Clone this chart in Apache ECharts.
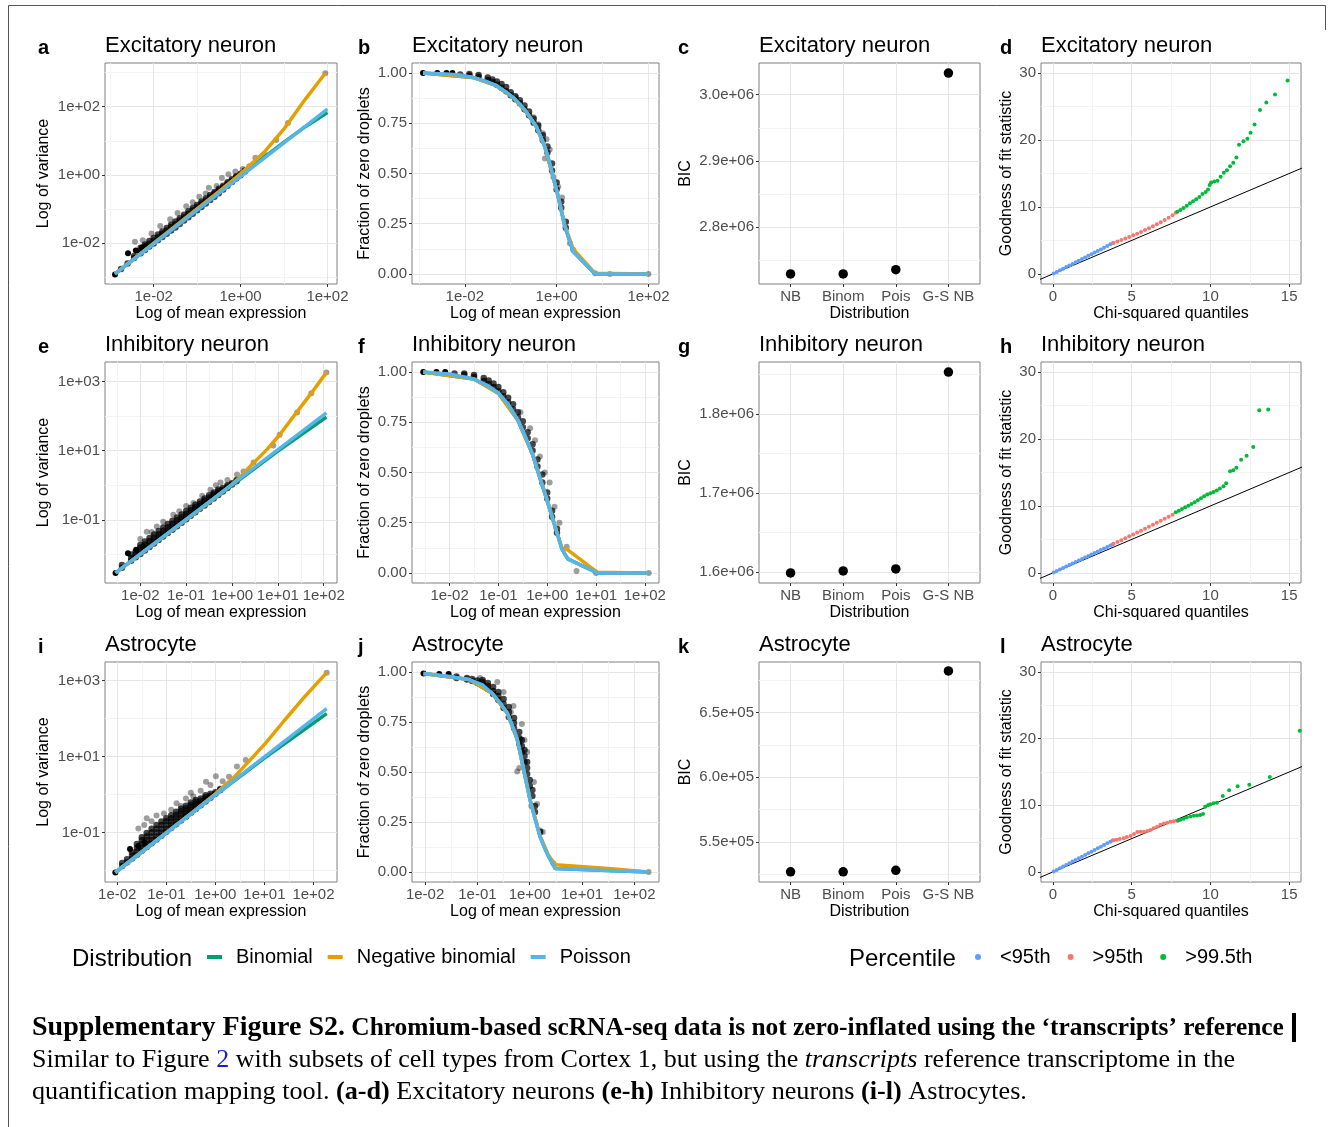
<!DOCTYPE html>
<html>
<head>
<meta charset="utf-8">
<script src="https://cdn.jsdelivr.net/npm/echarts@6/dist/echarts.min.js"></script>
<style>
html, body { margin: 0; padding: 0; background: #fff; }
#main { width: 1329px; height: 1127px; }
</style>
</head>
<body>
<div id="main"></div>
<script>
// values below are log10(mean), log10(variance) / fraction of zeros

// ---- Excitatory neuron ----
var aSolid = [[-2.89,-2.92],[-2.59,-2.30],[-2.41,-2.22],[-2.27,-2.13],[-2.18,-2.08]];
var aBand = [
  [-2.75,-2.76],[-2.6,-2.6],[-2.45,-2.44,-2.38],[-2.3,-2.3,-2.22,-2.14],[-2.2,-2.2,-2.12,-2.04],
  [-2.1,-2.1,-2.02,-1.94],[-2.0,-2.01,-1.93,-1.85],[-1.9,-1.91,-1.83,-1.75],[-1.8,-1.82,-1.73,-1.66],
  [-1.7,-1.73,-1.63,-1.56],[-1.6,-1.63,-1.53,-1.46],[-1.5,-1.54,-1.44,-1.37],[-1.4,-1.44,-1.34,-1.27],
  [-1.3,-1.34,-1.24,-1.17],[-1.2,-1.24,-1.14,-1.07],[-1.1,-1.14,-1.04,-0.97],[-1.0,-1.04,-0.94,-0.88],
  [-0.9,-0.94,-0.84,-0.78],[-0.8,-0.84,-0.75,-0.69],[-0.7,-0.74,-0.65,-0.59],[-0.6,-0.64,-0.55,-0.5],
  [-0.5,-0.54,-0.46,-0.41],[-0.4,-0.43,-0.36,-0.32],[-0.3,-0.32,-0.26,-0.22],[-0.2,-0.21,-0.17,-0.13],
  [-0.1,-0.11,-0.07,-0.04],[0.0,-0.01,0.03],[0.1,0.1,0.13]
];
var aGrey = [[-2.43,-1.96],[-2.25,-1.92],[-2.05,-1.72],[-1.85,-1.5],[-1.62,-1.3],[-1.45,-1.12],[-1.25,-0.92],
  [-1.1,-0.8],[-0.95,-0.64],[-0.8,-0.55],[-0.73,-0.38],[-0.55,-0.33],[-0.43,-0.09],[-0.28,0.02],[-0.12,0.1],
  [0.05,0.17],[0.2,0.25],[0.34,0.5],[0.55,0.6],[0.82,1.02],[1.09,1.52],[1.95,2.98]];
var aBinom = [[-2.89,-2.9],[0.0,-0.01],[1.0,0.96],[1.5,1.42],[2.0,1.83]];
var aNB = [[-2.89,-2.9],[-0.5,-0.49],[0.0,0.03],[0.3,0.38],[0.57,0.7],[1.02,1.38],[1.48,2.2],[1.95,2.98]];
var aPois = [[-2.89,-2.9],[2.0,1.93]];

var bSolid = [[-2.91,1.0],[-2.6,1.0],[-2.4,1.0],[-2.27,1.0]];
var bBand = [
  [-2.1,0.993],[-1.9,0.988,0.995],[-1.7,0.98,0.99],[-1.5,0.965,0.978],[-1.4,0.955,0.968],[-1.3,0.942,0.958],
  [-1.2,0.927,0.945],[-1.1,0.91,0.93],[-1.0,0.89,0.905],[-0.9,0.87,0.885],[-0.8,0.85,0.865],[-0.7,0.82,0.838],
  [-0.6,0.79,0.808],[-0.5,0.752,0.772],[-0.4,0.715,0.738],[-0.3,0.665,0.69],[-0.2,0.605,0.635],
  [-0.1,0.515,0.55],[0.0,0.42,0.455],[0.1,0.33,0.36],[0.2,0.23,0.26]
];
var bGrey = [[-0.88,0.88],[-0.5,0.78],[-0.4,0.745],[-0.3,0.7],[-0.22,0.67],[-0.15,0.62],[-0.255,0.575],
  [-0.07,0.483],[0.035,0.434],[0.12,0.38],[0.29,0.153],[0.36,0.12],[0.84,0.004],[1.16,0.0],[2.0,0.0]];
var bPois = [[-2.91,1.0],[-2.4,0.995],[-2.1,0.99],[-1.82,0.978],[-1.55,0.96],[-1.31,0.937],[-1.1,0.905],
  [-0.95,0.879],[-0.8,0.845],[-0.655,0.805],[-0.55,0.77],[-0.437,0.731],[-0.35,0.685],[-0.255,0.632],
  [-0.17,0.57],[-0.096,0.5],[0.035,0.384],[0.18,0.236],[0.36,0.112],[0.84,0.0],[2.0,0.0]];
var bNB = [[-2.91,1.0],[-1.82,0.978],[-1.31,0.937],[-0.95,0.879],[-0.655,0.805],[-0.437,0.731],
  [-0.255,0.632],[-0.096,0.5],[0.035,0.386],[0.18,0.24],[0.36,0.125],[0.84,0.003],[2.0,0.0]];
var bBinom = [[-2.91,1.0],[-1.82,0.978],[-1.31,0.937],[-0.95,0.879],[-0.655,0.805],[-0.437,0.731],
  [-0.255,0.632],[-0.096,0.5],[0.035,0.384],[0.18,0.236],[0.36,0.112],[0.84,0.0],[2.0,0.0]];

var cBIC = [2.729e6, 2.729e6, 2.7355e6, 3.0328e6];

var dBlue = [[0.05,0.06],[0.25,0.3],[0.45,0.55],[0.65,0.78],[0.85,1.02],[1.05,1.26],[1.25,1.5],[1.45,1.74],
  [1.65,1.98],[1.85,2.22],[2.05,2.46],[2.25,2.7],[2.45,2.94],[2.65,3.19],[2.85,3.43],[3.05,3.67],[3.25,3.92],
  [3.45,4.17],[3.65,4.42],[3.8,4.6]];
var dRed = [[3.85,4.62],[4.1,4.85],[4.35,5.07],[4.6,5.3],[4.85,5.53],[5.1,5.77],[5.35,6.02],[5.6,6.28],
  [5.85,6.55],[6.1,6.83],[6.35,7.12],[6.6,7.42],[6.85,7.73],[7.1,8.05],[7.35,8.4],[7.6,8.78],[7.8,9.15]];
var dGreen = [[7.9,9.3],[8.1,9.55],[8.3,9.85],[8.5,10.2],[8.7,10.55],[8.9,10.85],[9.1,11.15],[9.3,11.5],
  [9.5,11.95],[9.7,12.25],[9.85,12.6],[9.95,13.3],[10.05,13.65],[10.25,13.8],[10.45,13.9],[10.65,14.5],
  [10.85,15.1],[11.05,15.5],[11.25,16.1],[11.45,16.6],[11.65,17.4],[11.82,19.3],[12.1,19.8],[12.35,20.2],
  [12.55,21.1],[12.8,22.3],[13.15,24.5],[13.55,25.6],[14.1,26.8],[14.9,28.9]];

// ---- Inhibitory neuron ----
var eSolid = [[-2.54,-2.53],[-2.27,-1.96],[-2.09,-1.86],[-1.94,-1.77]];
var eBand = [
  [-2.4,-2.38,-2.3],[-2.2,-2.18,-2.1,-2.0],[-2.1,-2.08,-2.0,-1.9],[-2.0,-1.98,-1.9,-1.8,-1.72],
  [-1.9,-1.88,-1.8,-1.71,-1.62],[-1.8,-1.78,-1.7,-1.61,-1.52],[-1.7,-1.68,-1.6,-1.51,-1.42],
  [-1.6,-1.58,-1.5,-1.41,-1.32],[-1.5,-1.48,-1.4,-1.31,-1.22],[-1.4,-1.38,-1.3,-1.21,-1.12],
  [-1.3,-1.28,-1.2,-1.11,-1.02],[-1.2,-1.18,-1.1,-1.01,-0.93],[-1.1,-1.08,-1.0,-0.92,-0.84],
  [-1.0,-0.98,-0.9,-0.82,-0.74],[-0.9,-0.88,-0.8,-0.72,-0.65],[-0.8,-0.78,-0.7,-0.63,-0.56],
  [-0.7,-0.68,-0.61,-0.54,-0.47],[-0.6,-0.58,-0.51,-0.44,-0.38],[-0.5,-0.48,-0.42,-0.35,-0.29],
  [-0.4,-0.38,-0.32,-0.26,-0.21],[-0.3,-0.28,-0.23,-0.17,-0.12],[-0.2,-0.18,-0.13,-0.08],
  [-0.1,-0.08,-0.04,0.0],[0.0,0.02,0.06],[0.1,0.12,0.15]
];
var eGrey = [[-2.0,-1.55],[-1.86,-1.34],[-1.75,-1.35],[-1.64,-1.19],[-1.5,-1.05],[-1.28,-0.85],[-1.15,-0.75],
  [-1.0,-0.6],[-0.84,-0.51],[-0.65,-0.3],[-0.47,-0.13],[-0.35,0.0],[-0.25,0.08],[-0.1,0.15],[0.11,0.31],
  [0.25,0.4],[0.47,0.66],[0.9,1.15],[1.04,1.46],[1.42,2.1],[1.73,2.66],[2.06,3.26]];
var eBinom = [[-2.54,-2.53],[0.0,0.0],[1.0,0.99],[2.06,1.97]];
var eNB = [[-2.54,-2.53],[-0.5,-0.49],[0.0,0.03],[0.2,0.27],[0.36,0.5],[0.76,1.03],[1.04,1.46],[1.4,2.09],[1.73,2.66],[2.06,3.26]];
var ePois = [[-2.54,-2.53],[2.06,2.09]];

var fSolid = [[-2.54,1.0],[-2.27,1.0],[-2.09,1.0]];
var fBand = [
  [-1.9,0.993],[-1.7,0.986,0.993],[-1.5,0.975,0.985],[-1.3,0.955,0.97],[-1.2,0.94,0.958],[-1.1,0.925,0.943],
  [-1.0,0.905,0.925],[-0.9,0.88,0.9],[-0.8,0.85,0.872],[-0.7,0.815,0.84],[-0.6,0.775,0.8],[-0.5,0.725,0.755],
  [-0.4,0.67,0.7],[-0.3,0.61,0.64],[-0.2,0.53,0.565],[-0.1,0.45,0.49],[0.0,0.37,0.4],[0.1,0.28,0.31],[0.2,0.2,0.22]
];
var fGrey = [[-0.55,0.8],[-0.35,0.72],[-0.25,0.66],[-0.15,0.58],[-0.05,0.5],[0.05,0.45],[0.15,0.33],
  [0.25,0.25],[0.4,0.13],[0.6,0.01],[1.0,0.0],[2.08,0.0]];
var fPois = [[-2.54,1.0],[-2.0,0.99],[-1.5,0.965],[-1.2,0.93],[-1.0,0.895],[-0.8,0.84],[-0.6,0.76],
  [-0.45,0.68],[-0.3,0.59],[-0.15,0.47],[0.0,0.36],[0.15,0.24],[0.3,0.12],[0.42,0.07],[1.03,0.0],[2.08,0.0]];
var fNB = [[-2.54,1.0],[-1.5,0.965],[-1.0,0.895],[-0.6,0.76],[-0.3,0.59],[0.0,0.36],[0.15,0.24],[0.3,0.125],
  [0.42,0.115],[1.03,0.003],[2.08,0.0]];
var fBinom = [[-2.54,1.0],[-1.5,0.965],[-1.0,0.895],[-0.6,0.76],[-0.3,0.59],[0.0,0.36],[0.15,0.24],[0.3,0.12],
  [0.42,0.07],[1.03,0.0],[2.08,0.0]];

var gBIC = [1.5987e6, 1.6013e6, 1.6038e6, 1.8532e6];

var hBlue = [[0.05,0.06],[0.25,0.28],[0.45,0.5],[0.65,0.73],[0.85,0.95],[1.05,1.18],[1.25,1.4],[1.45,1.62],
  [1.65,1.85],[1.85,2.07],[2.05,2.3],[2.25,2.52],[2.45,2.74],[2.65,2.97],[2.85,3.19],[3.05,3.42],[3.25,3.64],
  [3.45,3.87],[3.65,4.09],[3.8,4.25]];
var hRed = [[3.85,4.35],[4.1,4.62],[4.35,4.9],[4.6,5.18],[4.85,5.47],[5.1,5.75],[5.35,6.03],[5.6,6.32],
  [5.85,6.6],[6.1,6.9],[6.35,7.2],[6.6,7.5],[6.85,7.8],[7.1,8.1],[7.35,8.4],[7.6,8.7]];
var hGreen = [[7.8,9.05],[8.0,9.3],[8.2,9.55],[8.4,9.8],[8.6,10.05],[8.8,10.3],[9.0,10.55],[9.2,10.85],
  [9.4,11.15],[9.6,11.45],[9.8,11.7],[10.0,11.9],[10.2,12.1],[10.4,12.3],[10.6,12.6],[10.83,12.94],
  [11.0,13.4],[11.25,15.2],[11.45,15.35],[11.65,15.7],[11.95,16.9],[12.3,17.5],[12.72,18.8],[13.1,24.3],[13.67,24.4]];

// ---- Astrocyte ----
var iSolid = [[-2.04,-2.05],[-1.74,-1.43],[-1.57,-1.35],[-1.44,-1.26]];
var iBand = [
  [-1.9,-1.88,-1.8],[-1.8,-1.78,-1.7],[-1.7,-1.68,-1.6,-1.52],[-1.6,-1.58,-1.5,-1.4,-1.3],
  [-1.5,-1.48,-1.4,-1.3,-1.2,-1.12],[-1.4,-1.38,-1.3,-1.2,-1.1,-1.01],[-1.3,-1.28,-1.2,-1.1,-1.0,-0.9],
  [-1.2,-1.18,-1.1,-1.0,-0.9,-0.8],[-1.1,-1.08,-1.0,-0.9,-0.8,-0.71],[-1.0,-0.98,-0.9,-0.8,-0.7,-0.62],
  [-0.9,-0.88,-0.8,-0.71,-0.62,-0.54],[-0.8,-0.78,-0.7,-0.61,-0.53,-0.45],[-0.7,-0.68,-0.6,-0.52,-0.44,-0.37],
  [-0.6,-0.58,-0.51,-0.43,-0.36,-0.29],[-0.5,-0.48,-0.41,-0.34,-0.27,-0.21],[-0.4,-0.38,-0.32,-0.25,-0.19,-0.14],
  [-0.3,-0.28,-0.22,-0.16,-0.1],[-0.2,-0.18,-0.13,-0.07,-0.02],[-0.1,-0.08,-0.03,0.02],[0.0,0.02,0.06],[0.1,0.12,0.15]
];
var iGrey = [[-1.57,-0.89],[-1.45,-0.8],[-1.4,-0.62],[-1.3,-0.7],[-1.2,-0.55],[-1.05,-0.5],[-0.9,-0.4],
  [-0.79,-0.23],[-0.7,-0.3],[-0.6,-0.1],[-0.5,0.05],[-0.45,-0.05],[-0.3,0.1],[-0.19,0.34],[-0.1,0.25],
  [0.01,0.48],[0.15,0.35],[0.28,0.47],[0.44,0.74],[0.62,0.91],[2.27,3.21]];
var iBinom = [[-2.04,-2.05],[0.0,-0.01],[1.0,0.96],[2.27,2.13]];
var iNB = [[-2.04,-2.05],[-0.5,-0.5],[0.0,0.02],[0.4,0.48],[0.65,0.83],[1.02,1.35],[1.42,1.97],[1.83,2.59],[2.27,3.21]];
var iPois = [[-2.04,-2.05],[2.27,2.26]];

var jSolid = [[-2.03,0.992],[-1.73,0.99],[-1.55,0.99]];
var jBand = [
  [-1.4,0.97,0.978],[-1.2,0.962,0.97],[-1.1,0.955,0.965],[-1.0,0.945,0.958],[-0.9,0.935,0.95,0.96],
  [-0.8,0.915,0.93,0.945],[-0.7,0.89,0.905,0.925],[-0.6,0.86,0.88,0.9],[-0.5,0.82,0.84,0.865],
  [-0.4,0.775,0.8,0.825],[-0.3,0.72,0.745,0.77],[-0.2,0.64,0.67,0.7],[-0.15,0.6,0.63,0.66],
  [-0.1,0.55,0.58,0.61],[-0.05,0.49,0.52,0.55],[0.0,0.43,0.46],[0.05,0.38,0.41],[0.1,0.3,0.33],[0.2,0.2]
];
var jGrey = [[-0.95,0.97],[-0.62,0.95],[-0.5,0.9],[-0.36,0.8],[-0.31,0.83],[-0.15,0.74],[-0.18,0.664],
  [-0.1,0.66],[-0.05,0.6],[-0.2,0.52],[-0.24,0.503],[0.08,0.45],[0.03,0.33],[0.14,0.34],[0.2,0.208],
  [0.25,0.2],[0.45,0.044],[2.27,0.0]];
var jPois = [[-2.03,0.992],[-1.6,0.98],[-1.16,0.962],[-0.9,0.935],[-0.72,0.894],[-0.55,0.84],[-0.43,0.795],
  [-0.33,0.73],[-0.24,0.664],[-0.17,0.585],[-0.11,0.503],[-0.05,0.43],[0.01,0.357],[0.1,0.265],[0.2,0.175],
  [0.28,0.12],[0.36,0.077],[0.49,0.017],[1.5,0.008],[2.27,0.0]];
var jNB = [[-2.03,0.992],[-1.16,0.962],[-0.72,0.894],[-0.43,0.795],[-0.24,0.664],[-0.11,0.503],[0.01,0.357],
  [0.2,0.178],[0.36,0.082],[0.49,0.036],[1.5,0.018],[2.27,0.0]];
var jBinom = [[-2.03,0.992],[-1.16,0.962],[-0.72,0.894],[-0.43,0.795],[-0.24,0.664],[-0.11,0.503],[0.01,0.357],
  [0.2,0.175],[0.36,0.077],[0.49,0.017],[1.5,0.008],[2.27,0.0]];

var kBIC = [5.269e5, 5.269e5, 5.28e5, 6.821e5];

var lBlue = [[0.05,0.06],[0.25,0.31],[0.45,0.56],[0.65,0.81],[0.85,1.06],[1.05,1.31],[1.25,1.56],[1.45,1.81],
  [1.65,2.05],[1.85,2.3],[2.05,2.55],[2.25,2.8],[2.45,3.05],[2.65,3.3],[2.85,3.55],[3.05,3.8],[3.25,4.05],
  [3.45,4.3],[3.65,4.55],[3.8,4.72]];
var lRed = [[3.85,4.75],[4.05,4.85],[4.25,4.95],[4.5,5.06],[4.7,5.25],[4.94,5.41],[5.15,5.7],[5.36,6.0],
  [5.57,6.02],[5.78,6.03],[6.0,6.15],[6.2,6.3],[6.4,6.55],[6.62,6.8],[6.83,7.1],[7.04,7.29],[7.25,7.4],
  [7.46,7.52],[7.67,7.6],[7.88,7.69]];
var lGreen = [[7.95,7.72],[8.1,7.85],[8.3,8.0],[8.5,8.18],[8.73,8.33],[8.95,8.42],[9.15,8.48],[9.35,8.55],
  [9.53,8.7],[9.67,9.77],[9.85,10.0],[9.99,10.17],[10.2,10.3],[10.41,10.4],[10.79,11.4],[11.19,12.25],
  [11.73,12.85],[12.47,13.1],[13.77,14.24],[15.67,21.2]];

// shared labels
var distCats = ['NB', 'Binom', 'Pois', 'G-S NB'];
var fitNames = ['Binomial', 'Negative binomial', 'Poisson'];
var pctNames = ['<95th', '>95th', '>99.5th'];
var qqRef = [-1, 16];   // y = x reference line ends
var fracTicks = [0, 0.25, 0.5, 0.75, 1], fracMinor = [0.125, 0.375, 0.625, 0.875];
var decTicks = [-2, -1, 0, 1, 2], decMinor = [-2.5, -1.5, -0.5, 0.5, 1.5];
var qqXTicks = [0, 5, 10, 15], qqXMinor = [2.5, 7.5, 12.5];
var qqYTicks = [0, 10, 20, 30], qqYMinor = [5, 15, 25];

var FONT = "'Liberation Sans', Arial, sans-serif";
var fitColors = ['#009E73', '#E69F00', '#56B4E9'];
var pctColors = ['#619CFF', '#F8766D', '#00BA38'];

var colL = [105, 412, 759, 1041], colR = [337, 659, 980, 1301];
var rowT = [63, 362, 662], rowB = [284, 583, 882];
var letterX = [38, 358, 678, 1000];
var yNameGap = [53, 39, 65, 26];

function logLab(v) { var n = Math.round(v); return '1e' + (n < 0 ? '-' : '+') + (Math.abs(n) < 10 ? '0' : '') + Math.abs(n); }
function bicLab(v) { return v.toExponential(1).replace(/e([+-])(\d)$/, 'e$10$2'); }
function fracLab(v) { return v.toFixed(2); }
function catLab(v) { return distCats[Math.round(v) - 1]; }
function plainLab(v) { return String(v); }

var specs = [
  {id:'a', t:'Excitatory neuron', c:0, r:0, kind:'mv', xr:[-3.12,2.22], yr:[-3.2,3.28], xt:[-2,0,2], xm:[-3,-1,1], yt:[-2,0,2], ym:[-3,-1,1,3], solid:aSolid, band:aBand, grey:aGrey, fits:[aBinom,aNB,aPois]},
  {id:'b', t:'Excitatory neuron', c:1, r:0, kind:'fz', xr:[-3.15,2.23], yr:[-0.05,1.05], xt:[-2,0,2], xm:[-3,-1,1], yt:fracTicks, ym:fracMinor, solid:bSolid, band:bBand, grey:bGrey, fits:[bBinom,bNB,bPois]},
  {id:'c', t:'Excitatory neuron', c:2, r:0, kind:'bic', yr:[2.7138e6,3.048e6], yt:[2.8e6,2.9e6,3.0e6], ym:[2.75e6,2.85e6,2.95e6], bic:cBIC},
  {id:'d', t:'Excitatory neuron', c:3, r:0, kind:'qq', pts:[dBlue,dRed,dGreen]},
  {id:'e', t:'Inhibitory neuron', c:0, r:1, kind:'mv', xr:[-2.77,2.29], yr:[-2.82,3.56], xt:decTicks, xm:decMinor, yt:[-1,1,3], ym:[-2,0,2], solid:eSolid, band:eBand, grey:eGrey, fits:[eBinom,eNB,ePois]},
  {id:'f', t:'Inhibitory neuron', c:1, r:1, kind:'fz', xr:[-2.77,2.29], yr:[-0.05,1.05], xt:decTicks, xm:decMinor, yt:fracTicks, ym:fracMinor, solid:fSolid, band:fBand, grey:fGrey, fits:[fBinom,fNB,fPois]},
  {id:'g', t:'Inhibitory neuron', c:2, r:1, kind:'bic', yr:[1.586e6,1.8659e6], yt:[1.6e6,1.7e6,1.8e6], ym:[1.65e6,1.75e6,1.85e6], bic:gBIC},
  {id:'h', t:'Inhibitory neuron', c:3, r:1, kind:'qq', pts:[hBlue,hRed,hGreen]},
  {id:'i', t:'Astrocyte', c:0, r:2, kind:'mv', xr:[-2.25,2.48], yr:[-2.3,3.49], xt:decTicks, xm:decMinor, yt:[-1,1,3], ym:[-2,0,2], solid:iSolid, band:iBand, grey:iGrey, fits:[iBinom,iNB,iPois]},
  {id:'j', t:'Astrocyte', c:1, r:2, kind:'fz', xr:[-2.25,2.47], yr:[-0.05,1.05], xt:decTicks, xm:decMinor, yt:fracTicks, ym:fracMinor, solid:jSolid, band:jBand, grey:jGrey, fits:[jBinom,jNB,jPois]},
  {id:'k', t:'Astrocyte', c:2, r:2, kind:'bic', yr:[5.19e5,6.89e5], yt:[5.5e5,6.0e5,6.5e5], ym:[5.25e5,5.75e5,6.25e5,6.75e5], bic:kBIC},
  {id:'l', t:'Astrocyte', c:3, r:2, kind:'qq', pts:[lBlue,lRed,lGreen]}
];

function axisPair(gi, isX, range, majors, minors, fmt, name, gap) {
  var major = {
    gridIndex: gi, type: 'value', min: range[0], max: range[1],
    position: isX ? 'bottom' : 'left',
    axisLine: {show: false, onZero: false},
    axisTick: {show: true, length: 3, customValues: majors, lineStyle: {color: '#333', width: 1}},
    axisLabel: {customValues: majors, formatter: fmt, color: '#4d4d4d', fontSize: 15, margin: 5, fontFamily: FONT, hideOverlap: false},
    splitLine: {show: true, lineStyle: {color: '#e6e6e6', width: 1}},
    name: name, nameLocation: 'middle', nameGap: gap,
    nameTextStyle: {color: '#000', fontSize: 16, fontFamily: FONT}
  };
  if (isX) major.nameMoveOverlap = false;
  var minor = {
    gridIndex: gi, type: 'value', min: range[0], max: range[1],
    position: isX ? 'top' : 'right',
    axisLine: {show: false, onZero: false},
    axisTick: {show: false, customValues: minors.length ? minors : [range[0]]},
    axisLabel: {show: false},
    splitLine: {show: minors.length > 0, lineStyle: {color: '#f3f3f3', width: 1}}
  };
  return [major, minor];
}

function rowsToPoints(rows) {
  var out = [];
  rows.forEach(function (r) { for (var k = 1; k < r.length; k++) out.push([r[0], r[k]]); });
  return out;
}

var grids = [], xAxes = [], yAxes = [], series = [], titles = [];

specs.forEach(function (s, gi) {
  var L = colL[s.c], T = rowT[s.r];
  grids.push({left: L, top: T, width: colR[s.c] - L, height: rowB[s.r] - T, show: true,
    borderColor: '#808080', borderWidth: 1, outerBoundsMode: 'none'});

  var xa, ya;
  if (s.kind === 'mv' || s.kind === 'fz') {
    xa = axisPair(gi, true, s.xr, s.xt, s.xm, logLab, 'Log of mean expression', 22);
    ya = axisPair(gi, false, s.yr, s.yt, s.ym, s.kind === 'mv' ? logLab : fracLab,
      s.kind === 'mv' ? 'Log of variance' : 'Fraction of zero droplets', yNameGap[s.c]);
  } else if (s.kind === 'bic') {
    xa = axisPair(gi, true, [0.4, 4.6], [1, 2, 3, 4], [], catLab, 'Distribution', 22);
    ya = axisPair(gi, false, s.yr, s.yt, s.ym, bicLab, 'BIC', yNameGap[s.c]);
  } else {
    xa = axisPair(gi, true, [-0.75, 15.75], qqXTicks, qqXMinor, plainLab, 'Chi-squared quantiles', 22);
    ya = axisPair(gi, false, [-1.5, 31.5], qqYTicks, qqYMinor, plainLab, 'Goodness of fit statistic', yNameGap[s.c]);
  }
  xAxes.push(xa[0], xa[1]);
  yAxes.push(ya[0], ya[1]);
  var ax = 2 * gi;

  if (s.kind === 'mv' || s.kind === 'fz') {
    series.push({type: 'scatter', xAxisIndex: ax, yAxisIndex: ax, data: s.grey, symbolSize: 6,
      itemStyle: {color: '#000', opacity: 0.38}, silent: true, z: 2});
    series.push({type: 'scatter', xAxisIndex: ax, yAxisIndex: ax, data: rowsToPoints(s.band), symbolSize: 6.5,
      itemStyle: {color: '#000', opacity: 0.72}, silent: true, z: 2});
    series.push({type: 'scatter', xAxisIndex: ax, yAxisIndex: ax, data: s.solid, symbolSize: 6,
      itemStyle: {color: '#000', opacity: 1}, silent: true, z: 2});
    s.fits.forEach(function (d, k) {
      series.push({type: 'line', name: fitNames[k], xAxisIndex: ax, yAxisIndex: ax, data: d,
        showSymbol: false, symbol: 'none', smooth: false,
        lineStyle: {color: fitColors[k], width: 3.5}, itemStyle: {color: fitColors[k]}, z: 3 + k, silent: true});
    });
  } else if (s.kind === 'bic') {
    series.push({type: 'scatter', xAxisIndex: ax, yAxisIndex: ax,
      data: s.bic.map(function (v, i) { return [i + 1, v]; }), symbolSize: 9.5,
      itemStyle: {color: '#000', opacity: 1}, silent: true, z: 3});
  } else {
    series.push({type: 'line', xAxisIndex: ax, yAxisIndex: ax,
      data: qqRef.map(function (v) { return [v, v]; }), showSymbol: false, symbol: 'none',
      lineStyle: {color: '#000', width: 1}, silent: true, z: 3});
    s.pts.forEach(function (d, k) {
      series.push({type: 'scatter', name: pctNames[k], xAxisIndex: ax, yAxisIndex: ax, data: d, symbolSize: 4,
        itemStyle: {color: pctColors[k], opacity: 1}, silent: true, z: 4});
    });
  }

  titles.push({text: s.t, left: colL[s.c], top: rowT[s.r] - 28, padding: 0,
    textStyle: {fontSize: 22, fontWeight: 'normal', color: '#000', fontFamily: FONT}});
  titles.push({text: s.id, left: letterX[s.c], top: rowT[s.r] - 25, padding: 0,
    textStyle: {fontSize: 20, fontWeight: 'bold', color: '#000', fontFamily: FONT}});
});

titles.push({text: 'Distribution', left: 72, top: 947, padding: 0,
  textStyle: {fontSize: 24, fontWeight: 'normal', color: '#000', fontFamily: FONT}});
titles.push({text: 'Percentile', left: 849, top: 947, padding: 0,
  textStyle: {fontSize: 24, fontWeight: 'normal', color: '#000', fontFamily: FONT}});

var serif = "'Liberation Serif', 'Times New Roman', serif";

var option = {
  animation: false,
  backgroundColor: '#fff',
  title: titles,
  grid: grids,
  xAxis: xAxes,
  yAxis: yAxes,
  legend: [
    {data: fitNames, left: 207, top: 947, padding: 0, orient: 'horizontal', icon: 'rect',
      itemWidth: 15, itemHeight: 4, itemGap: 15, selectedMode: false,
      textStyle: {fontSize: 20, color: '#000', fontFamily: FONT, padding: [0, 0, 0, 9]}},
    {data: pctNames, left: 975, top: 947, padding: 0, orient: 'horizontal', icon: 'circle',
      itemWidth: 6, itemHeight: 6, itemGap: 17, selectedMode: false,
      textStyle: {fontSize: 20, color: '#000', fontFamily: FONT, padding: [0, 0, 0, 14]}}
  ],
  graphic: [
    {type: 'polyline', shape: {points: [[8.5, 1127], [8.5, 5.5], [1325.5, 5.5], [1325.5, 30]]},
      style: {stroke: '#555', lineWidth: 1, fill: null}, silent: true},
    {type: 'text', left: 32, top: 1014, silent: true,
      style: {text: '{a|Supplementary Figure S2.}{b| Chromium-based scRNA-seq data is not zero-inflated using the \u2018transcripts\u2019 reference}',
        rich: {a: {fontFamily: serif, fontWeight: 'bold', fontSize: 28, fill: '#000'},
               b: {fontFamily: serif, fontWeight: 'bold', fontSize: 25.4, fill: '#000'}}}},
    {type: 'rect', shape: {x: 1292, y: 1013, width: 4, height: 29}, style: {fill: '#000'}, silent: true},
    {type: 'text', left: 32, top: 1047, silent: true,
      style: {text: '{r|Similar to Figure }{u|2}{r| with subsets of cell types from Cortex 1, but using the }{i|transcripts}{r| reference transcriptome in the}',
        rich: {r: {fontFamily: serif, fontSize: 26, fill: '#000'},
               u: {fontFamily: serif, fontSize: 26, fill: '#1a1adb'},
               i: {fontFamily: serif, fontSize: 26, fontStyle: 'italic', fill: '#000'}}}},
    {type: 'text', left: 32, top: 1079, silent: true,
      style: {text: '{r|quantification mapping tool. }{b|(a-d)}{r| Excitatory neurons }{b|(e-h)}{r| Inhibitory neurons }{b|(i-l)}{r| Astrocytes.}',
        rich: {r: {fontFamily: serif, fontSize: 26.2, fill: '#000'},
               b: {fontFamily: serif, fontSize: 26.2, fontWeight: 'bold', fill: '#000'}}}}
  ],
  series: series
};

var myChart = echarts.init(document.getElementById('main'), null, {renderer: 'canvas'});
myChart.setOption(option);
</script>
</body>
</html>
